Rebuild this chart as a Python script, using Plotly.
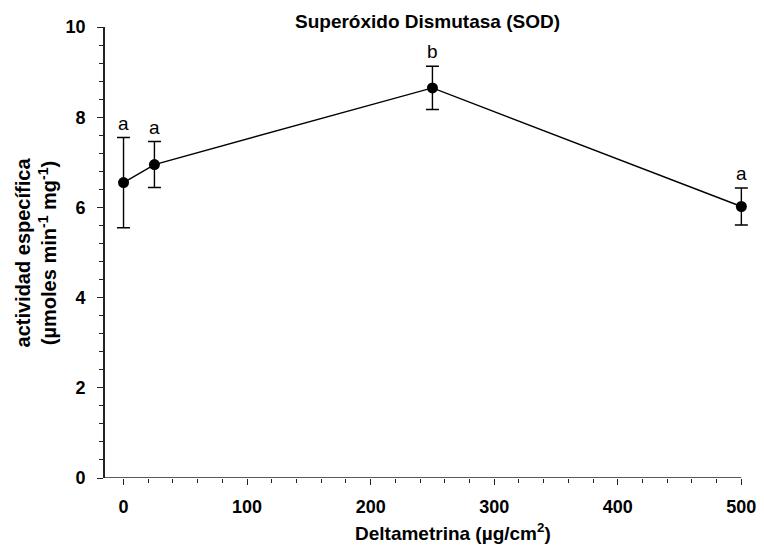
import plotly.graph_objects as go

dose = [0, 25, 250, 500]
sod = [6.55, 6.95, 8.65, 6.02]
sod_err = [1.0, 0.51, 0.48, 0.41]
letters = ["a", "a", "b", "a"]

x_ticks = [0, 100, 200, 300, 400, 500]
y_ticks = [0, 2, 4, 6, 8, 10]
x_range = [-15, 507]
y_range = [0, 10]

FONT = "Arial, Liberation Sans, sans-serif"
AX = "#222222"

fig = go.Figure()
fig.add_trace(go.Scatter(
    x=dose, y=sod, mode="lines+markers",
    line=dict(color="black", width=1.4),
    marker=dict(color="black", size=11),
    error_y=dict(type="data", array=sod_err, visible=True,
                 color="black", thickness=1.4, width=6.5),
    showlegend=False, cliponaxis=False,
))

for xv, yv, ev, lt in zip(dose, sod, sod_err, letters):
    fig.add_annotation(x=xv, y=yv + ev, text=lt, showarrow=False,
                       yanchor="bottom", yshift=2,
                       font=dict(family=FONT, size=19, color="black"))

# x axis baseline ending at the last tick
fig.add_shape(type="line", xref="x", yref="y", x0=x_range[0], x1=x_ticks[-1],
              y0=y_range[0], y1=y_range[0], line=dict(color=AX, width=1.6), layer="above")

fig.add_annotation(xref="paper", yref="paper", x=0.5, y=1, yshift=6,
                   text="<b>Superóxido Dismutasa (SOD)</b>", showarrow=False,
                   xanchor="center", yanchor="middle",
                   font=dict(family=FONT, size=19, color="black"))
fig.add_annotation(xref="paper", yref="paper", x=0.54, y=-0.12,
                   text="<b>Deltametrina (µg/cm<sup>2</sup>)</b>", showarrow=False,
                   xanchor="center", yanchor="middle",
                   font=dict(family=FONT, size=19, color="black"))
fig.add_annotation(xref="paper", yref="paper", x=-0.107, y=0.5,
                   text="<b>actividad específica<br>(µmoles min<sup>-1</sup> mg<sup>-1</sup>)</b>",
                   showarrow=False, textangle=-90,
                   xanchor="center", yanchor="middle",
                   font=dict(family=FONT, size=20, color="black"))

fig.update_layout(
    width=764, height=550,
    margin=dict(l=105, r=8, t=27, b=72),
    paper_bgcolor="white", plot_bgcolor="white",
    xaxis=dict(range=x_range, tickvals=x_ticks, ticks="outside", ticklen=6,
               tickwidth=1.4, tickcolor=AX, showline=False,
               showgrid=False, zeroline=False, ticklabelstandoff=6,
               tickfont=dict(family=FONT, size=18, color="black", weight="bold"),
               minor=dict(tickvals=list(range(20, 500, 20)), ticks="outside", ticklen=4,
                          tickwidth=1.2, tickcolor=AX, showgrid=False)),
    yaxis=dict(range=y_range, tickvals=y_ticks, ticks="outside", ticklen=6,
               tickwidth=1.4, tickcolor=AX, showline=True, linecolor=AX, linewidth=1.6,
               showgrid=False, zeroline=False, ticklabelstandoff=8,
               tickfont=dict(family=FONT, size=18, color="black", weight="bold"),
               minor=dict(dtick=0.4, tick0=0, ticks="outside", ticklen=4,
                          tickwidth=1.2, tickcolor=AX, showgrid=False)),
)

fig.write_html("out.html")
